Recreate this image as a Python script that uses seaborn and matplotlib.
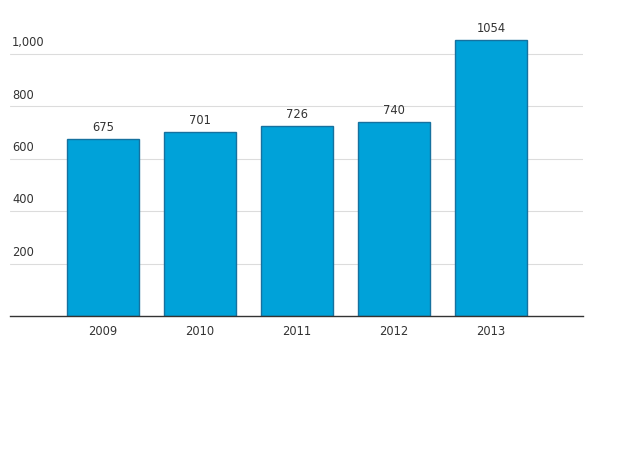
import matplotlib
matplotlib.use('Agg')
import matplotlib.pyplot as plt
import matplotlib.transforms as mtransforms
import seaborn as sns
import pandas as pd

years = ['2009', '2010', '2011', '2012', '2013']
values = [675, 701, 726, 740, 1054]
y_ticks = [200, 400, 600, 800, 1000]

sns.set_theme(style='white')
plt.rcParams['font.family'] = ['DejaVu Sans']

df = pd.DataFrame({'year': years, 'value': values})

fig = plt.figure(figsize=(6.24, 4.5), dpi=100)
ax = fig.add_axes([0.016, 0.2978, 0.918, 0.6987])

sns.barplot(data=df, x='year', y='value', color='#00a2d9', saturation=1,
            width=0.742, edgecolor='#16719f', linewidth=1, ax=ax, zorder=3)

ax.set_xlim(-0.959, 4.948)
ax.set_ylim(0, 1200)
ax.set_xlabel('')
ax.set_ylabel('')
ax.set_yticks([])
for s in ['top', 'right', 'left']:
    ax.spines[s].set_visible(False)
ax.spines['bottom'].set_color('#333333')
ax.spines['bottom'].set_linewidth(1)
ax.spines['bottom'].set_zorder(4)

# gridlines with labels sitting above them on the left
trans = mtransforms.blended_transform_factory(ax.transAxes, ax.transData)
for t in y_ticks:
    ax.axhline(t, color='#dcdcdc', linewidth=0.8, zorder=1)
    ax.annotate(f'{t:,}', xy=(0.0035, t), xycoords=trans, xytext=(0, 3.5),
                textcoords='offset points', ha='left', va='bottom',
                fontsize=8.3, color='#333333')

ax.tick_params(axis='x', length=0, pad=6.5, labelsize=8.3, labelcolor='#333333')

for i, v in enumerate(values):
    ax.annotate(str(v), xy=(i, v), xytext=(0, 3.5), textcoords='offset points',
                ha='center', va='bottom', fontsize=8.3, color='#333333')

fig.savefig('out.png', dpi=100)
